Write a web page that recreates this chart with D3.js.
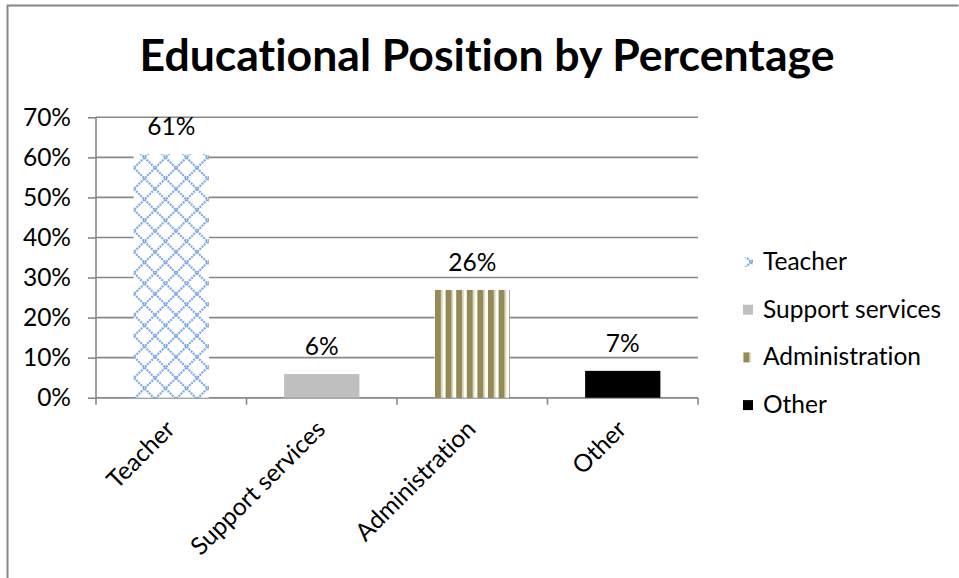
<!DOCTYPE html>
<html><head><meta charset="utf-8">
<script src="https://cdn.jsdelivr.net/npm/d3@7"></script>
<style>body{margin:0;background:#fff}svg{display:block}text{font-variant-ligatures:none;font-feature-settings:"liga" 0}</style>
</head><body>
<svg id="c" width="959" height="578"></svg>
<script>
const categories = ["Teacher", "Support services", "Administration", "Other"];
const values = [0.608, 0.059, 0.269, 0.067];
const valueLabels = ["61%", "6%", "26%", "7%"];
const yTicks = [0, 0.1, 0.2, 0.3, 0.4, 0.5, 0.6, 0.7];
const title = "Educational Position by Percentage";

const FONT = "Lato, 'Open Sans', sans-serif";
const FS = 24.5;
const svg = d3.select("#c");
const defs = svg.append("defs");

// Teacher: blue diamond lattice
const pt = defs.append("pattern").attr("id","pTeacher").attr("patternUnits","userSpaceOnUse")
  .attr("width",21).attr("height",21).attr("x",134).attr("y",0);
pt.append("rect").attr("width",21).attr("height",21).attr("fill","#fff");
pt.append("path").attr("d","M0,0L21,21M21,0L0,21M-10.5,10.5L10.5,-10.5M10.5,31.5L31.5,10.5M-10.5,10.5L10.5,31.5M10.5,-10.5L31.5,10.5")
  .attr("stroke","#7eaae2").attr("stroke-width",2.2).attr("stroke-dasharray","2,1");
// Administration: vertical olive stripes
const pa = defs.append("pattern").attr("id","pAdmin").attr("patternUnits","userSpaceOnUse")
  .attr("width",10.6).attr("height",10).attr("x",435).attr("y",0);
pa.append("rect").attr("width",10.6).attr("height",10).attr("fill","#fff");
pa.append("rect").attr("x",0).attr("width",6).attr("height",10).attr("fill","#948a54");
pa.append("rect").attr("x",6).attr("width",1.6).attr("height",10).attr("fill","#d8d3b8");

const fills = ["url(#pTeacher)", "#bfbfbf", "url(#pAdmin)", "#000000"];

// outer frame
svg.append("path").attr("d","M7.5,578V5.5H958.5").attr("fill","none").attr("stroke","#868686").attr("stroke-width",2);

// title
const t = svg.append("text").attr("x",487).attr("y",71).attr("text-anchor","middle")
  .attr("font-family",FONT).attr("font-weight","bold").attr("font-size",40).attr("fill","#000").text(title);
const tw = t.node().getComputedTextLength();
t.attr("font-size", 40*695/tw);

const x = d3.scaleBand().domain(categories).range([96,698]).paddingInner(0.5).paddingOuter(0.25);
const y = d3.scaleLinear().domain([0,0.7]).range([397.7,117.3]);

// gridlines
svg.append("g").selectAll("line").data(yTicks).join("line")
  .attr("x1",96).attr("x2",698).attr("y1",d=>y(d)).attr("y2",d=>y(d))
  .attr("stroke","#888").attr("stroke-width",1.6);

// y axis
const ya = svg.append("g").attr("transform","translate(96,0)")
  .call(d3.axisLeft(y).tickValues(yTicks).tickFormat(d3.format(".0%")).tickSize(8).tickPadding(17));
ya.select(".domain").attr("stroke","#888").attr("stroke-width",1.6).attr("d","M0,117.3V397.7");
ya.selectAll(".tick line").attr("stroke","#888").attr("stroke-width",1.6);
ya.selectAll(".tick text").attr("font-family",FONT).attr("font-size",FS).attr("fill","#000");

// x axis
const step = x.step();
const bounds = d3.range(categories.length+1).map(i => 96 + i*step);
svg.append("line").attr("x1",96).attr("x2",698).attr("y1",y(0)).attr("y2",y(0)).attr("stroke","#888").attr("stroke-width",1.6);
svg.append("g").selectAll("line").data(bounds).join("line")
  .attr("x1",d=>d).attr("x2",d=>d).attr("y1",y(0)).attr("y2",y(0)+7)
  .attr("stroke","#888").attr("stroke-width",1.6);
svg.append("g").selectAll("text").data(categories).join("text")
  .attr("transform",d=>`translate(${x(d)+x.bandwidth()/2+5},${y(0)+33}) rotate(-45)`)
  .attr("text-anchor","end").attr("font-family",FONT).attr("font-size",FS).attr("fill","#000").text(d=>d);

// bars
svg.append("g").selectAll("rect").data(categories).join("rect")
  .attr("x",d=>x(d)).attr("width",x.bandwidth())
  .attr("y",(d,i)=>y(values[i])).attr("height",(d,i)=>y(0)-y(values[i]))
  .attr("fill",(d,i)=>fills[i]);

// value labels
svg.append("g").selectAll("text").data(categories).join("text")
  .attr("x",d=>x(d)+x.bandwidth()/2).attr("y",(d,i)=>y(values[i])-19)
  .attr("text-anchor","middle").attr("font-family",FONT).attr("font-size",FS).attr("fill","#000")
  .text((d,i)=>valueLabels[i]);

// legend
const lg = svg.append("g").selectAll("g").data(categories).join("g")
  .attr("transform",(d,i)=>`translate(743,${262+i*47.7})`);
lg.append("rect").attr("x",0).attr("y",-5).attr("width",10).attr("height",10).attr("fill",(d,i)=>fills[i]);
lg.append("text").attr("x",20).attr("y",8).attr("font-family",FONT).attr("font-size",FS).attr("fill","#000").text(d=>d);
</script>
</body></html>
